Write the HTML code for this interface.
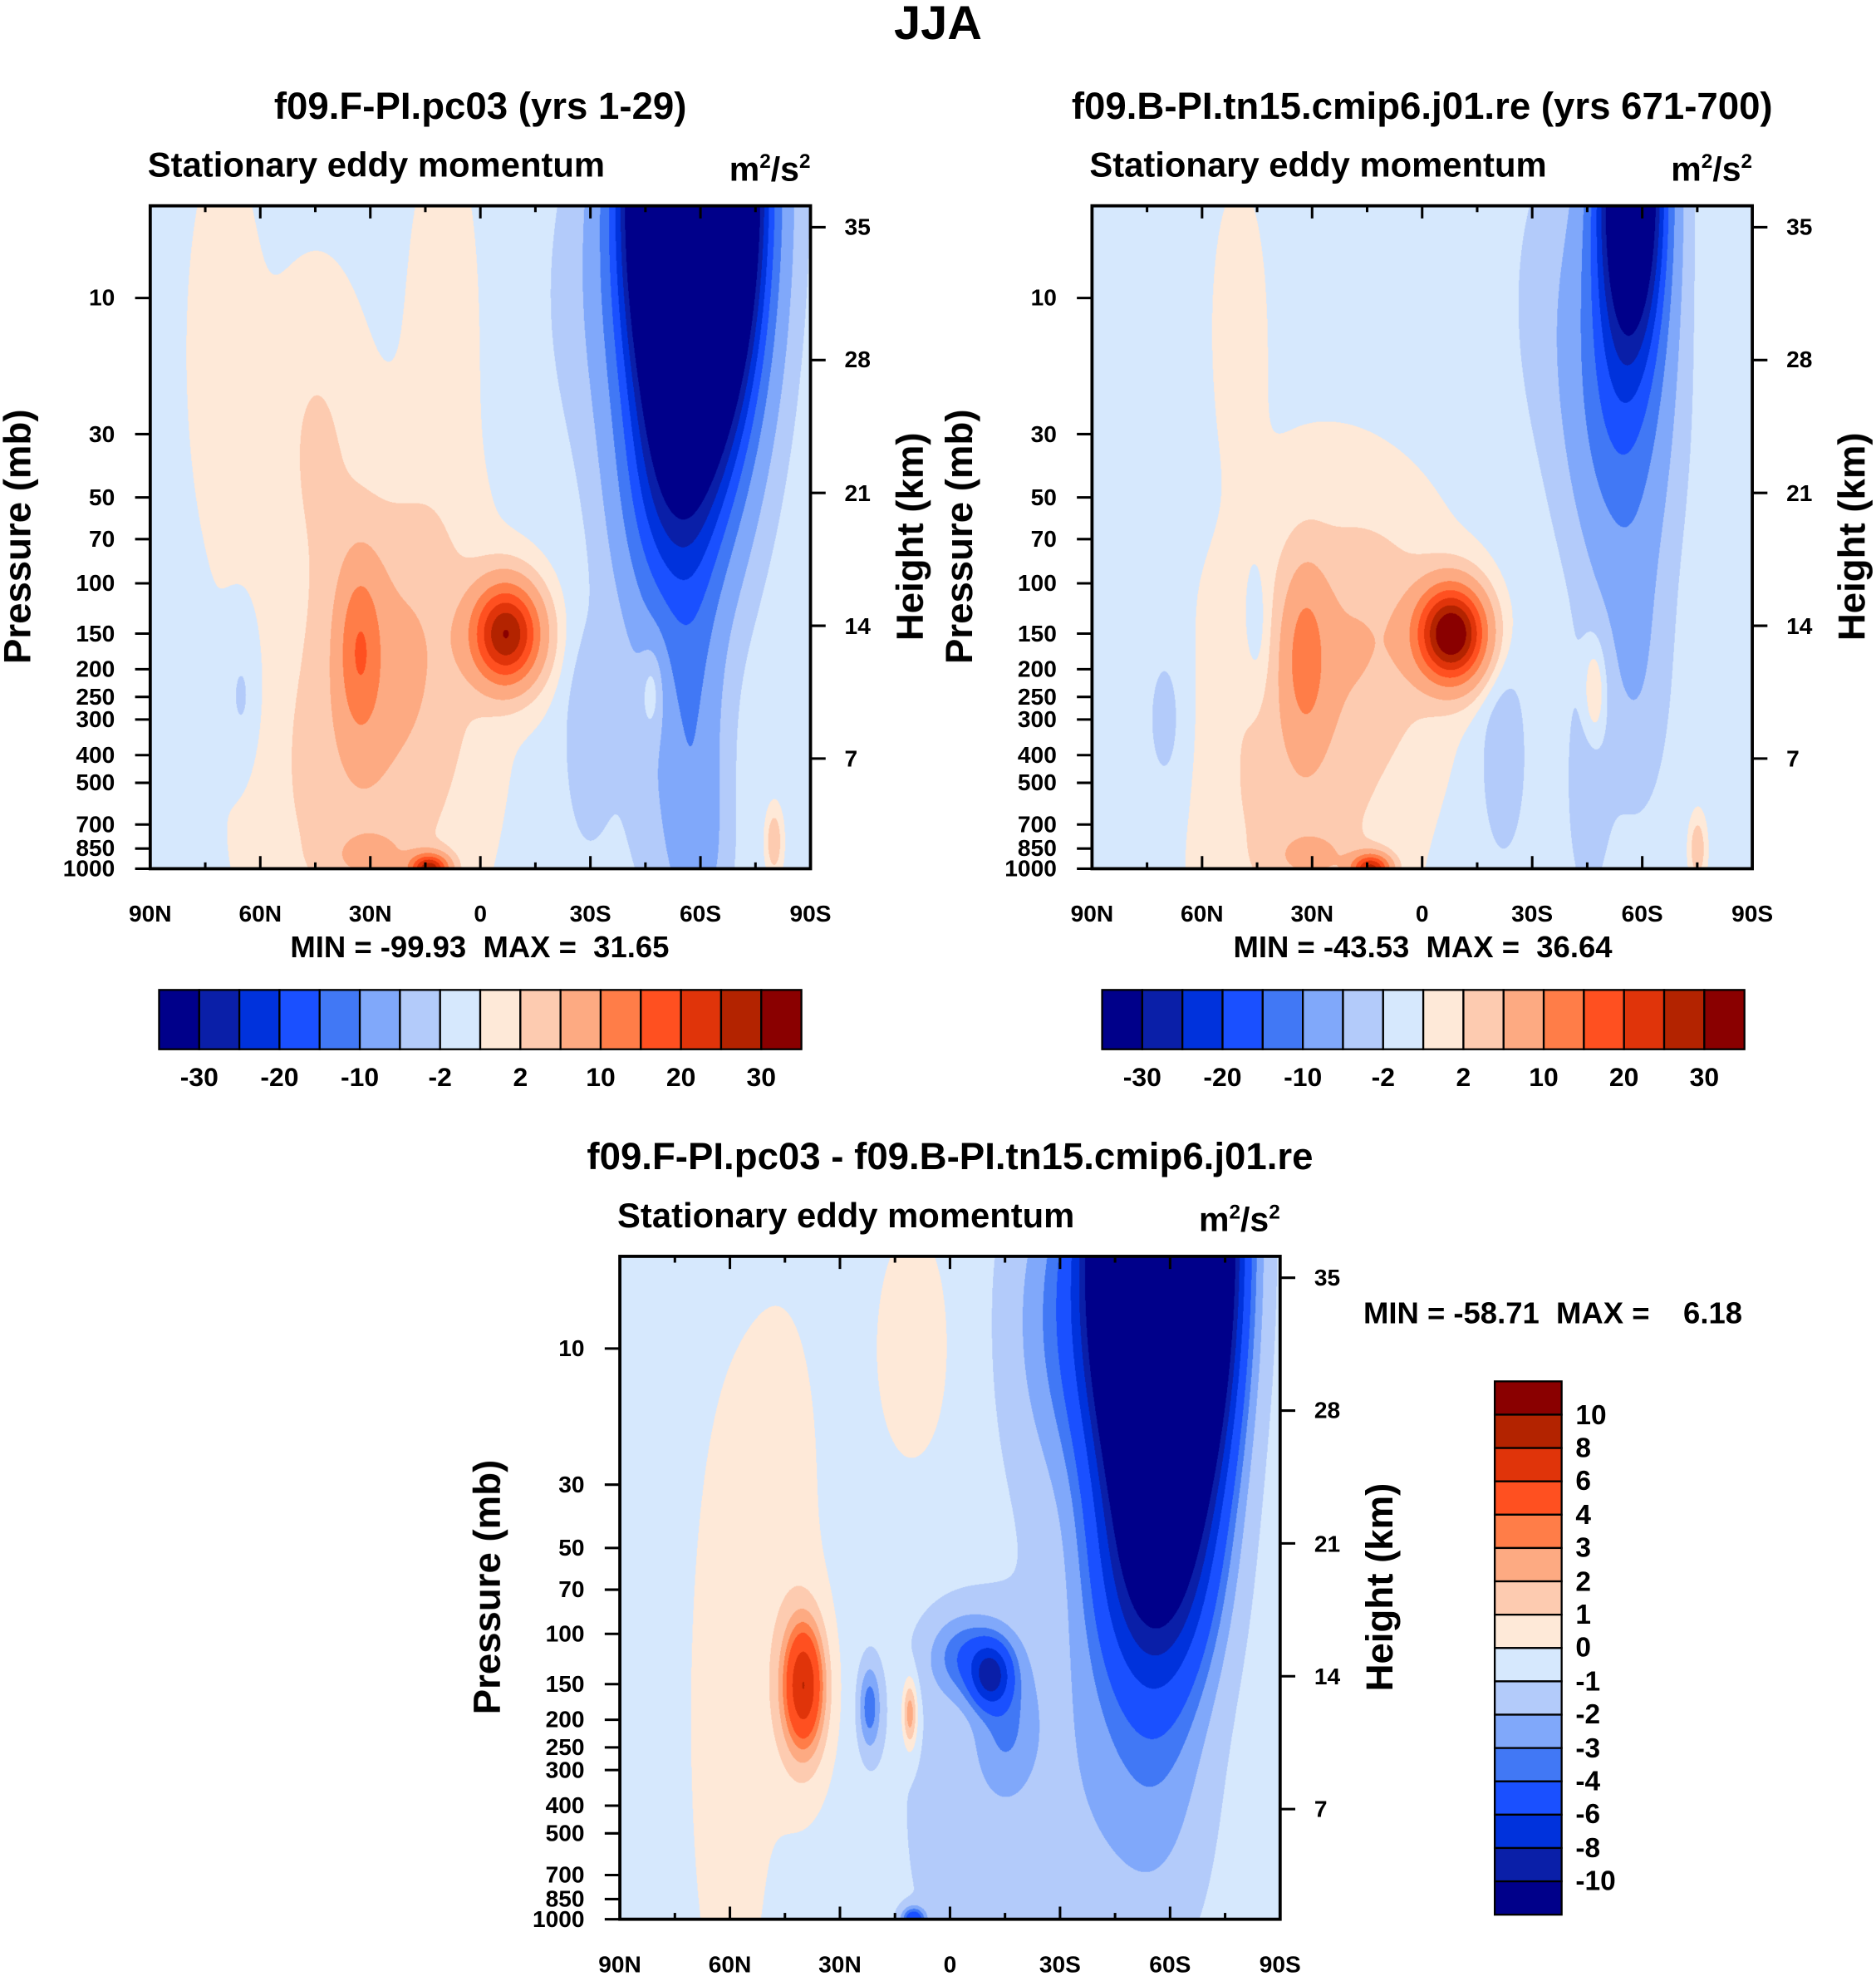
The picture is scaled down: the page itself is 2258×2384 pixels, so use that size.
<!DOCTYPE html>
<html><head><meta charset="utf-8"><style>
html,body{margin:0;padding:0;background:#fff;}
#wrap{position:absolute;left:0;top:0;width:1486px;height:1569px;transform:scale(1.51952);transform-origin:0 0;font-family:"Liberation Sans",sans-serif;font-weight:bold;color:#000;}
.t{position:absolute;white-space:pre;}
canvas{position:absolute;}
svg{position:absolute;left:0;top:0;overflow:visible;}
</style></head><body>
<div id="wrap">
<div class="t" style="left:0;width:1486px;text-align:center;top:-2px;font-size:38px">JJA</div>
</div>
<script>
// ---- data ----
const cols=["#00008a","#0a1fa8","#0032dc","#1a50ff","#4178f5","#80a8fa","#b3cbfa","#d6e8fd","#fee9d8","#fdcbb0","#fdaa82","#ff7d48","#ff5020","#e0340a","#b32300","#8a0000"];
const levA=[-30,-25,-20,-15,-10,-5,-2,0,2,5,10,15,20,25,30];
const levB=[-10,-8,-6,-4,-3,-2,-1,0,1,2,3,4,6,8,10];
const pTicks=[10,30,50,70,100,150,200,250,300,400,500,700,850,1000];
const hTicks=[7,14,21,28,35];
const latTicks=[90,60,30,0,-30,-60,-90];
const latLabels=["90N","60N","30N","0","30S","60S","90S"];
// blobs: [lat, pressure(mb), amplitude, lat-width, log-p width]
const blobs1=[[-58,4,-130,15,0.8],[-52,50,-14,14,0.5],[-58,300,-6,8,0.6],[-50,400,-3,14,0.6],[-60,900,-3,8,0.3],[-35,10,-3,18,0.6],
 [-7,150,30,9,0.17],[33,170,11,6,0.3],[20,160,4,18,0.5],[35,500,2.5,25,0.6],[30,300,1.5,28,0.9],[-47,230,5,3.5,0.18],
 [65,250,-2.5,5,0.25],[-29,350,-3.5,6,0.35],[10,12,1.6,9,0.6],[70,15,1.4,10,0.7],[45,30,2.4,12,0.5],[14,1000,28,5,0.05],[30,900,4,10,0.08],[-80,800,5,2,0.1]];
const blobs2=[[-57,4,-48,9,0.55],[-54,25,-12,13,0.6],[-58,200,-4,9,0.5],[-45,500,-3,6,0.45],[-40,10,-3,16,0.6],
 [-8,150,36,9,0.16],[32,180,9,6,0.3],[15,150,4,20,0.4],[35,500,2.5,22,0.6],[30,300,1.5,28,0.9],[-47,240,5,3.5,0.2],
 [70,300,-2.5,6,0.3],[45,150,-2.5,4,0.25],[-22,400,-3,7,0.4],[50,12,2,6,0.4],[14,1000,26,5,0.05],[30,900,4,10,0.08],[-75,850,5,2,0.1]];
const blobs3=[[-58,4,-70,14,0.8],[-55,60,-6,15,0.45],[-58,300,-1.2,14,0.6],[-40,300,-1.3,22,0.7],[-35,8,-3,18,0.6],
 [40,150,6.2,5,0.2],[40,170,2,8,0.35],[11,190,3.5,2,0.12],[-11,140,-6,5,0.1],[-5,120,-3,10,0.14],[22,180,-3,3,0.15],[-15,200,-2,8,0.25],
 [60,200,1.1,12,1.2],[10,10,1,12,0.5],[45,30,0.8,12,0.8],[-2,400,-0.8,20,0.8],[10,1000,-5,3,0.04]];
const base1=-0.5, base2=-0.5, base3=-0.5;

const W=document.getElementById('wrap');
function txt(x,y,s,size,anchor,name,extra){
  const d=document.createElement('div');d.className='t';d.textContent=s;
  d.style.fontSize=size+'px';d.style.top=(y-size*0.58)+'px';
  if(anchor==='middle'){d.style.left=(x-300)+'px';d.style.width='600px';d.style.textAlign='center';}
  else if(anchor==='end'){d.style.left=(x-600)+'px';d.style.width='600px';d.style.textAlign='right';}
  else d.style.left=x+'px';
  if(extra)d.style.cssText+=extra;
  
  
  W.appendChild(d);return d;
}
function field(blobs,base,lat,z){
  let v=base;
  for(const b of blobs){const dz=(z-Math.log10(b[1]))/b[4],dl=(lat-b[0])/b[3];v+=b[2]*Math.exp(-dl*dl-dz*dz);}
  return v;
}
function level(v,lev){let i=0;while(i<lev.length&&v>=lev[i])i++;return i;}
function panel(ox,oy,blobs,base,lev,title,minmax,id){
  const pw=523,ph=525,sc=2;
  const c=document.createElement('canvas');c.width=pw*sc;c.height=ph*sc;
  c.style.left=ox+'px';c.style.top=oy+'px';c.style.width=pw+'px';c.style.height=ph+'px';
  
  
  W.appendChild(c);
  const g=c.getContext('2d');const img=g.createImageData(c.width,c.height);
  const rgb=cols.map(h=>[parseInt(h.substr(1,2),16),parseInt(h.substr(3,2),16),parseInt(h.substr(5,2),16)]);
  for(let y=0;y<c.height;y++){const z=3-(ph-y/sc)/226;
    for(let x=0;x<c.width;x++){const lat=90-(x/sc)/pw*180;
      const k=rgb[level(field(blobs,base,lat,z),lev)];const o=(y*c.width+x)*4;
      img.data[o]=k[0];img.data[o+1]=k[1];img.data[o+2]=k[2];img.data[o+3]=255;}}
  g.putImageData(img,0,0);
  const ns='http://www.w3.org/2000/svg';
  const s=document.createElementNS(ns,'svg');s.setAttribute('width','1486');s.setAttribute('height','1569');
  
  
  let h=`<rect x="${ox}" y="${oy}" width="${pw}" height="${ph}" fill="none" stroke="#000" stroke-width="2.5"/>`;
  const X=lat=>ox+(90-lat)/180*pw, Y=p=>oy+ph-(3-Math.log10(p))*226;
  for(let l=90;l>=-90;l-=15){const maj=l%30===0,len=maj?10:5;
    h+=`<line x1="${X(l)}" x2="${X(l)}" y1="${oy+ph}" y2="${oy+ph-len}" stroke="#000" stroke-width="2"/><line x1="${X(l)}" x2="${X(l)}" y1="${oy}" y2="${oy+len}" stroke="#000" stroke-width="2"/>`;}
  for(const p of pTicks)h+=`<line x1="${ox}" x2="${ox-12}" y1="${Y(p)}" y2="${Y(p)}" stroke="#000" stroke-width="2"/>`;
  for(const k of hTicks){const y=oy+ph+18-k*15.03;h+=`<line x1="${ox+pw}" x2="${ox+pw+12}" y1="${y}" y2="${y}" stroke="#000" stroke-width="2"/>`;}
  s.innerHTML=h;W.appendChild(s);
  pTicks.forEach(p=>txt(ox-28,Y(p),String(p),18.5,'end',id+'-pressure-tick-'+p));
  hTicks.forEach(k=>txt(ox+pw+27,oy+ph+18-k*15.03,String(k),18.5,'start',id+'-height-tick-'+k));
  latTicks.forEach((l,i)=>txt(X(l),oy+ph+36,latLabels[i],18.5,'middle',id+'-lat-tick-'+latLabels[i]));
  txt(ox-2,oy-32,'Stationary eddy momentum',27.5,'start',id+'-left-string');
  const u=txt(ox+pw,oy-28,'',27,'end',id+'-units');u.innerHTML='m<sup style="font-size:16px">2</sup>/s<sup style="font-size:16px">2</sup>';
  txt(ox+pw/2,oy-78,title,30,'middle',id+'-title');
  txt(ox-104,oy+ph/2,'Pressure (mb)',30,'middle',id+'-y-axis-title','transform:rotate(-90deg)');
  txt(ox+pw+80,oy+ph/2,'Height (km)',30,'middle',id+'-right-axis-title','transform:rotate(-90deg)');
  if(minmax)txt(minmax[0],minmax[1],minmax[2],24,'middle',id+'-min-max');
}
function hbar(ox,oy,labels,id){
  const bw=31.8,bh=47;let h='';
  for(let i=0;i<16;i++)h+=`<rect x="${ox+i*bw}" y="${oy}" width="${bw}" height="${bh}" fill="${cols[i]}" stroke="#000" stroke-width="1.5"/>`;
  const s=document.createElementNS('http://www.w3.org/2000/svg','svg');s.setAttribute('width','1486');s.setAttribute('height','1569');
  
  
  s.innerHTML=h;W.appendChild(s);
  labels.forEach((l,i)=>txt(ox+(2*i+1)*bw,oy+bh+23,String(l),21,'middle',id+'-colorbar-label'));
}
panel(119,163,blobs1,base1,levA,'f09.F-PI.pc03 (yrs 1-29)',[380,751,'MIN = -99.93  MAX =  31.65'],'panel-a');
panel(865,163,blobs2,base2,levA,'f09.B-PI.tn15.cmip6.j01.re (yrs 671-700)',[1127,751,'MIN = -43.53  MAX =  36.64'],'panel-b');
panel(491,995,blobs3,base3,levB,'f09.F-PI.pc03 - f09.B-PI.tn15.cmip6.j01.re',[1230,1041,'MIN = -58.71  MAX =    6.18'],'panel-diff');
const barLabels=[-30,-20,-10,-2,2,10,20,30];
hbar(126,784,barLabels,'panel-a');
hbar(873,784,barLabels,'panel-b');
(function(){
  const ox=1184,oy=1094,bw=53,bh=26.4;let h='';
  for(let i=0;i<16;i++)h+=`<rect x="${ox}" y="${oy+i*bh}" width="${bw}" height="${bh}" fill="${cols[15-i]}" stroke="#000" stroke-width="1.5"/>`;
  const s=document.createElementNS('http://www.w3.org/2000/svg','svg');s.setAttribute('width','1486');s.setAttribute('height','1569');
  
  
  s.innerHTML=h;W.appendChild(s);
  const lv=[...levB].reverse();
  lv.forEach((l,i)=>txt(ox+bw+11,oy+(i+1)*bh,String(l),22,'start','panel-diff-colorbar-label'));
})();
</script>
</body></html>
